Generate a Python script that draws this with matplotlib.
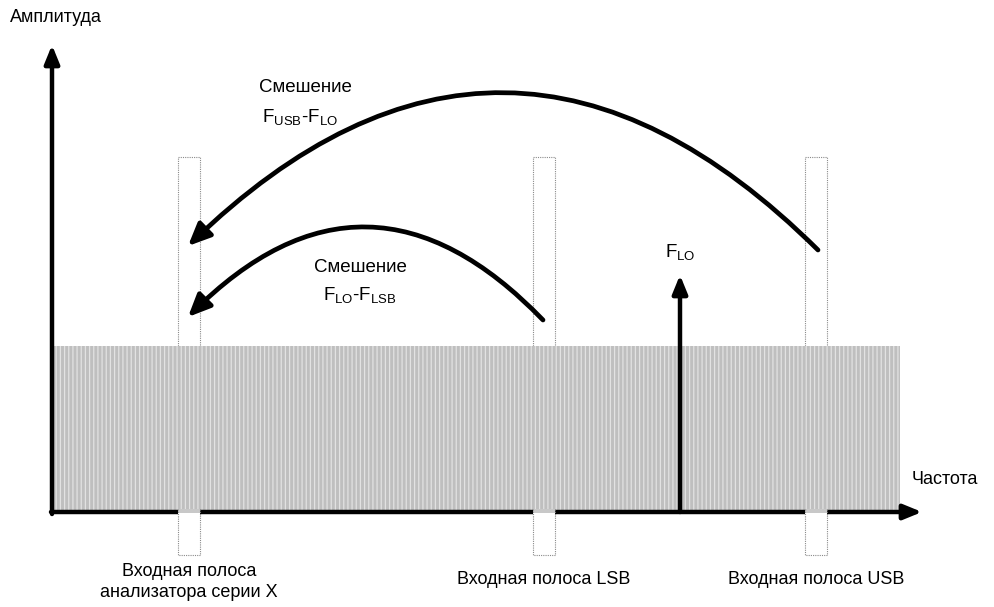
import matplotlib
matplotlib.use("Agg")
import matplotlib.pyplot as plt
from matplotlib.patches import Rectangle
from matplotlib import font_manager

names = {f.name for f in font_manager.fontManager.ttflist}
FONT = "Liberation Sans Narrow" if "Liberation Sans Narrow" in names else "Liberation Sans"
plt.rcParams['font.family'] = [FONT, 'DejaVu Sans']
plt.rcParams['hatch.linewidth'] = 0.9

# Diagram layout (pixel coordinates of the reference)
W, H = 995, 607
axis_origin = (52, 512)
y_axis_top = 45
x_axis_end = 922
noise_rect = (52, 346, 900, 512)            # x0, y_top, x1, y_bottom
band_centers = [189, 544, 816]
band_width = 22
band_top, band_bottom = 157, 555
flo_x, flo_top = 680, 275
arcs = [((818, 250), (188, 246), 0.49), ((543, 320), (188, 317), 0.51)]
arc_labels = [("Смешение", (305, 88)), ("F$_\\mathregular{USB}$-F$_\\mathregular{LO}$", (300, 118)),
              ("Смешение", (360, 267)), ("F$_\\mathregular{LO}$-F$_\\mathregular{LSB}$", (360, 296))]
band_labels = ["Входная полоса\nанализатора серии X", "Входная полоса LSB", "Входная полоса USB"]
band_label_y = [582, 580, 580]

fig = plt.figure(figsize=(W / 100, H / 100), dpi=100)
ax = fig.add_axes([0, 0, 1, 1])
ax.set_xlim(0, W)
ax.set_ylim(H, 0)
ax.axis('off')

# input bands (dotted), drawn beneath the noise floor
for c in band_centers:
    ax.add_patch(Rectangle((c - band_width / 2, band_top), band_width, band_bottom - band_top,
                           facecolor='none', edgecolor='#8a8a8a', linestyle=(0, (1, 1)),
                           linewidth=0.8, zorder=0.5))

# noise floor rectangle
x0, yt, x1, yb = noise_rect
ax.add_patch(Rectangle((x0, yt), x1 - x0, yb - yt, facecolor='#bfbfbf',
                       edgecolor='#e2e2e2', hatch='||||', linewidth=0, zorder=1))

# axes arrows
ax.annotate('', xy=(axis_origin[0], y_axis_top), xytext=(axis_origin[0], axis_origin[1] + 2),
            arrowprops=dict(arrowstyle='-|>,head_length=1.1,head_width=0.45', lw=3.2, color='black',
                            shrinkA=0, shrinkB=0), zorder=4)
ax.annotate('', xy=(x_axis_end, axis_origin[1]), xytext=(axis_origin[0] - 1, axis_origin[1]),
            arrowprops=dict(arrowstyle='-|>,head_length=1.1,head_width=0.45', lw=3.2, color='black',
                            shrinkA=0, shrinkB=0), zorder=4)

# gaps in the frequency axis where the bands cross it
for c in band_centers:
    ax.add_patch(Rectangle((c - band_width / 2, axis_origin[1] - 3), band_width, 6,
                           facecolor='#c8c8c8', edgecolor='none', zorder=5))
    ax.add_patch(Rectangle((c - band_width / 2, axis_origin[1] + 0.5), band_width, 3,
                           facecolor='white', edgecolor='none', zorder=5))
    ax.plot([c - band_width / 2, c - band_width / 2], [axis_origin[1] - 3, axis_origin[1] + 4],
            color='#8a8a8a', lw=0.8, ls=(0, (1, 1)), zorder=6)
    ax.plot([c + band_width / 2, c + band_width / 2], [axis_origin[1] - 3, axis_origin[1] + 4],
            color='#8a8a8a', lw=0.8, ls=(0, (1, 1)), zorder=6)

# F_LO arrow
ax.annotate('', xy=(flo_x, flo_top), xytext=(flo_x, axis_origin[1]),
            arrowprops=dict(arrowstyle='-|>,head_length=1.1,head_width=0.45', lw=3.2, color='black',
                            shrinkA=0, shrinkB=0), zorder=7)
ax.text(flo_x, 253, "F$_\\mathregular{LO}$", ha='center', va='center', fontsize=13.5)

# mixing arcs
for (start, end, rad) in arcs:
    ax.annotate('', xy=end, xytext=start,
                arrowprops=dict(arrowstyle='-|>,head_length=1.35,head_width=0.6', lw=3.4,
                                color='black', shrinkA=0, shrinkB=0, capstyle='round',
                                connectionstyle=f'arc3,rad={rad}'), zorder=8)

for txt, (x, y) in arc_labels:
    ax.text(x, y, txt, ha='center', va='center', fontsize=13.5)

# labels
ax.text(10, 18, "Амплитуда", ha='left', va='center', fontsize=13)
ax.text(912, 480, "Частота", ha='left', va='center', fontsize=13)
for c, lab, y in zip(band_centers, band_labels, band_label_y):
    ax.text(c, y, lab, ha='center', va='center', fontsize=13, linespacing=1.25)

fig.savefig("out.png", dpi=100)
